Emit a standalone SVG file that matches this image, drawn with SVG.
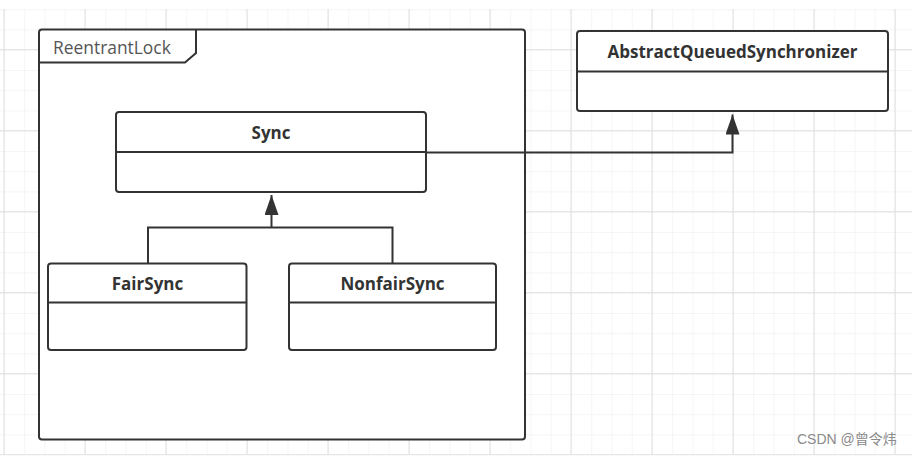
<svg xmlns="http://www.w3.org/2000/svg" width="912" height="456" viewBox="0 0 912 456">
  <defs>
    <style>
      .minor { stroke: #ececec; stroke-width: 1; }
      .major { stroke: #e0e0e0; stroke-width: 1; }
      .box { fill: #ffffff; stroke: #333333; stroke-width: 2; }
      .sep { stroke: #333333; stroke-width: 2; fill: none; }
      .title { font-family: "Open Sans", "Liberation Sans", sans-serif; font-weight: 700; font-size: 17px; fill: #333333; text-anchor: middle; }
      .pkg { font-family: "Open Sans", "Liberation Sans", sans-serif; font-size: 17.4px; fill: #555555; }
      .edge { stroke: #333333; stroke-width: 2; fill: none; }
      .wm { font-family: "Liberation Sans", "Noto Sans CJK SC", sans-serif; font-size: 14px; fill: #8a8a8a; }
    </style>
    <marker id="tri" viewBox="0 0 20 14" refX="20" refY="7" markerWidth="20" markerHeight="14" markerUnits="userSpaceOnUse" orient="auto">
      <path d="M0,0 L20,7 L0,14 Z" fill="#333333"/>
    </marker>
    <pattern id="gridMinor" x="4" y="9.2" width="20.25" height="20.25" patternUnits="userSpaceOnUse">
      <path d="M0,0 H20.25 M0,0 V20.25" class="minor" fill="none"/>
    </pattern>
  </defs>

  <rect x="0" y="0" width="912" height="456" fill="#ffffff"/>
  <g id="grid">
    <rect x="0" y="9" width="912" height="446" fill="url(#gridMinor)"/>
    <path class="major" fill="none" d="M4,9 V455 M85,9 V455 M166,9 V455 M247,9 V455 M328,9 V455 M409,9 V455 M490,9 V455 M571,9 V455 M652,9 V455 M733,9 V455 M814,9 V455 M895,9 V455 M0,49.7 H912 M0,130.7 H912 M0,211.7 H912 M0,292.7 H912 M0,373.7 H912 M0,454.7 H912"/>
  </g>

  <g id="ReentrantLock">
    <rect class="box" x="39" y="29.5" width="486" height="410" rx="3"/>
    <path class="sep" d="M39,62.5 H185 L196,53 V29.5"/>
    <text class="pkg" x="53" y="53.5">ReentrantLock</text>
  </g>

  <g id="AbstractQueuedSynchronizer">
    <rect class="box" x="577" y="31" width="311" height="80" rx="3"/>
    <line class="sep" x1="577" y1="71.5" x2="888" y2="71.5"/>
    <text class="title" x="732.5" y="57.5">AbstractQueuedSynchronizer</text>
  </g>

  <g id="Sync">
    <rect class="box" x="116" y="112" width="310" height="80" rx="3"/>
    <line class="sep" x1="116" y1="152" x2="426" y2="152"/>
    <text class="title" x="271" y="139">Sync</text>
  </g>

  <g id="FairSync">
    <rect class="box" x="48" y="263.5" width="198.5" height="86.5" rx="3"/>
    <line class="sep" x1="48" y1="302.5" x2="246.5" y2="302.5"/>
    <text class="title" x="147.5" y="290">FairSync</text>
  </g>

  <g id="NonfairSync">
    <rect class="box" x="289" y="263.5" width="207" height="86.5" rx="3"/>
    <line class="sep" x1="289" y1="302.5" x2="496" y2="302.5"/>
    <text class="title" x="392.5" y="290">NonfairSync</text>
  </g>

  <g id="connectors">
    <path class="edge" d="M426,152.5 H732.5 V114.5" marker-end="url(#tri)"/>
    <path class="edge" d="M148,263.5 V227.5 H392.5 V263.5"/>
    <path class="edge" d="M271.5,227.5 V195" marker-end="url(#tri)"/>
  </g>

  <text class="wm" x="797" y="444">CSDN @曾令炜</text>
</svg>
